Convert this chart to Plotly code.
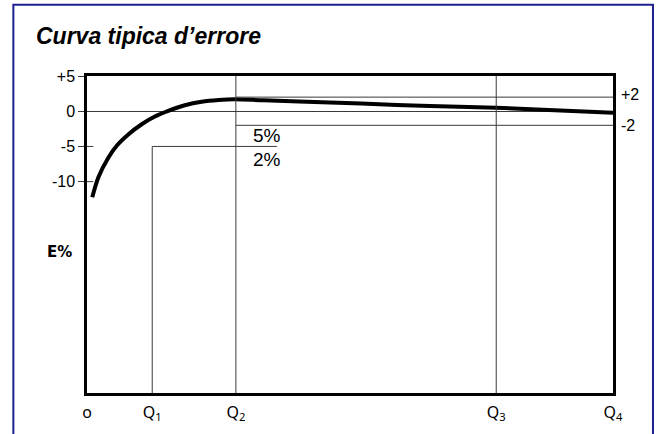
import plotly.graph_objects as go

# Q positions along the x axis (0..100 scale, Q4 = end)
q_names = ["o", "Q<sub>1</sub>", "Q<sub>2</sub>", "Q<sub>3</sub>", "Q<sub>4</sub>"]
q_vals = [0, 12.4, 28.3, 77.8, 100]

# Typical error curve (E%)
curve_x = [1.0, 2.15, 4.05, 5.65, 7.85, 10.4, 12.9, 15.45, 18.6, 21.8, 25.0, 28.1,
           33.5, 46.2, 58.9, 65.2, 77.8, 100]
curve_y = [-12.2, -9.4, -6.6, -4.9, -3.3, -1.85, -0.75, 0.05, 0.85, 1.35, 1.6, 1.7,
           1.55, 1.25, 0.9, 0.75, 0.5, -0.2]

y_ticks = [5, 0, -5, -10]
y_tick_text = ["+5", "0", "-5", "-10"]

band_hi = 2    # +2 % limit (Q2..Q4)
band_lo = -2   # -2 % limit (Q2..Q4)
low_lim = -5   # -5 % limit (Q1..Q2)
label_5pct = "5%"
label_2pct = "2%"

Q1, Q2, Q3, Q4 = q_vals[1], q_vals[2], q_vals[3], q_vals[4]
Y_MIN, Y_MAX = -40, 5
thin = dict(color="#3a3a3a", width=1)

fig = go.Figure()
fig.add_trace(go.Scatter(x=curve_x, y=curve_y, mode="lines",
                         line=dict(color="black", width=4, shape="spline", smoothing=0.8),
                         hoverinfo="skip", showlegend=False))

shapes = [
    dict(type="line", x0=Q1, x1=Q1, y0=Y_MIN, y1=low_lim, line=thin),
    dict(type="line", x0=Q2, x1=Q2, y0=Y_MIN, y1=Y_MAX, line=thin),
    dict(type="line", x0=Q3, x1=Q3, y0=Y_MIN, y1=Y_MAX, line=thin),
    dict(type="line", x0=Q1, x1=36.1, y0=low_lim, y1=low_lim, line=thin),
    dict(type="line", x0=Q2, x1=Q4, y0=band_hi, y1=band_hi, line=thin),
    dict(type="line", x0=Q2, x1=Q4, y0=band_lo, y1=band_lo, line=thin),
    # short inner parts of the y ticks
    *[dict(type="line", xref="paper", x0=0, x1=0.012, y0=v, y1=v, line=thin)
      for v in y_ticks if v not in (0, Y_MAX)],
    # blue frame around the whole figure
    dict(type="rect", xref="paper", yref="paper", x0=-0.14, x1=1.076, y0=-0.2, y1=1.2247,
         line=dict(color="#1f1f8f", width=2), layer="below"),
]

annotations = [
    dict(text="<b><i>Curva tipica d’errore</i></b>", xref="paper", yref="paper",
         x=-0.101, y=1.125, xanchor="left", yanchor="middle", showarrow=False,
         font=dict(family="Liberation Sans, Arial", size=23, color="black")),
    dict(text="<b>E%</b>", xref="paper", yref="paper", x=-0.053, y=0.446,
         xanchor="center", yanchor="middle", showarrow=False,
         font=dict(family="DejaVu Sans", size=15, color="black")),
    dict(text="+2", x=Q4, y=band_hi, xanchor="left", yanchor="middle", xshift=6, yshift=3,
         showarrow=False, font=dict(family="Liberation Sans, Arial", size=16, color="black")),
    dict(text="-2", x=Q4, y=band_lo, xanchor="left", yanchor="middle", xshift=6, yshift=0,
         showarrow=False, font=dict(family="Liberation Sans, Arial", size=16, color="black")),
    dict(text=label_5pct, x=34.2, y=-3.4, xanchor="center", yanchor="middle",
         showarrow=False, font=dict(family="Liberation Sans, Arial", size=19, color="black")),
    dict(text=label_2pct, x=34.2, y=-6.8, xanchor="center", yanchor="middle",
         showarrow=False, font=dict(family="Liberation Sans, Arial", size=19, color="black")),
]

fig.update_layout(
    width=657, height=434,
    margin=dict(l=87, r=44, t=76, b=41),
    paper_bgcolor="white", plot_bgcolor="white",
    shapes=shapes, annotations=annotations,
    xaxis=dict(range=[0, 100], tickmode="array", tickvals=q_vals, ticktext=q_names,
               showgrid=False, zeroline=False, showline=True, mirror=True,
               linecolor="black", linewidth=2.5, ticks="", ticklabelstandoff=3,
               automargin=False,
               tickfont=dict(family="Noto Sans, DejaVu Sans", size=16, color="black"),
               fixedrange=True),
    yaxis=dict(range=[Y_MIN, Y_MAX], tickmode="array", tickvals=y_ticks, ticktext=y_tick_text,
               showgrid=False, zeroline=True, zerolinecolor="#3a3a3a", zerolinewidth=1,
               showline=True, mirror=True, linecolor="black", linewidth=2.5,
               ticks="outside", ticklen=6, tickcolor="#3a3a3a", tickwidth=1,
               automargin=False,
               tickfont=dict(family="Liberation Sans, Arial", size=16, color="black"),
               fixedrange=True),
    showlegend=False,
)

fig.write_html("out.html", config={"displayModeBar": False},
               post_script="document.body.style.margin='0px';document.body.style.overflow='hidden';")
